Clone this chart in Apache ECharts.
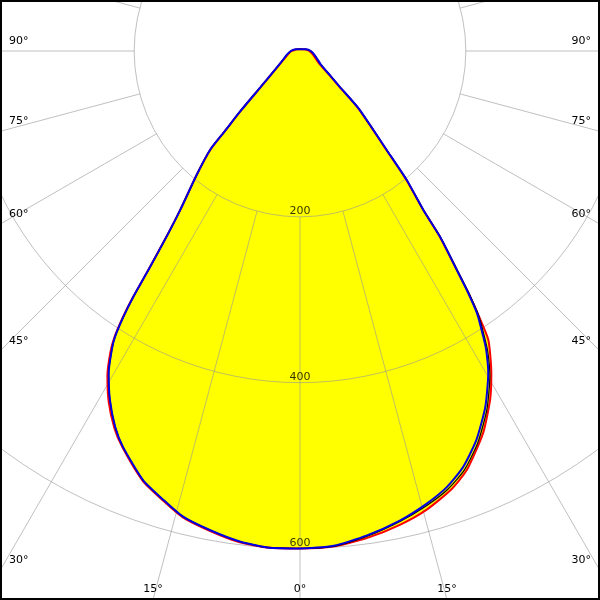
<!DOCTYPE html>
<html>
<head>
<meta charset="utf-8">
<script src="https://cdn.jsdelivr.net/npm/echarts@6/dist/echarts.min.js"></script>
<style>html,body{margin:0;padding:0;background:#fff}#c{width:600px;height:600px}</style>
</head>
<body>
<div id="c"></div>
<script>
// ---- data (angles in degrees from nadir: negative = right half, positive = left half; values in cd) ----
const radiusTicks = [200, 400, 600];
const angleLabelValues = [90, 75, 60, 45, 30, 15, 0];

const blueRightAngles = [-180,-150,-120,-105,-90,-75,-57,-51,-48,-45.5,-41.2,-39.6,-37.8,-37.0,-35.6,-34.9,-34.0,-32.7,-31.9,-30.3,-27.5,-24.4,-21.4,-18.6,-15.6,-12.0,-7.8,-3.9,0];
const blueRightValues = [2,2.5,4,8,13,18,30,47,65,100,159,202,243,281,325,352,382,409,425,450,484,515,539,555,567,579,590,598,600];
const blueLeftAngles = [3.8,7.0,10.6,14.1,16.9,20.1,24.1,26.2,28.6,30.7,32.2,32.9,33.6,34.15,34.7,35.7,37.0,39.8,42.3,43.2,44.7,47.5,50.5,59.7,75,90,105,120,150,180];
const blueLeftValues = [600,596,588,579,566,551,523,505,479,452,426,411,385,358,321,276,240,195,161,132,103,65,47,26,16,11,7,4,2.5,2];

const redRightAngles = [-180,-150,-120,-105,-90,-75,-57,-51,-48,-45.5,-41.2,-39.6,-37.8,-37.0,-35.6,-34.9,-34.0,-33.1,-30.7,-28.6,-25.6,-21.7,-18.9,-15.4,-11.9,-7.8,-3.8,0];
const redRightValues = [2,2.5,4,7,11,16,27,44,62,98,157,200,242,280,325,353,386,416,452,479,511,544,560,574,584,593,599,600];
const redLeftAngles = [3.8,7.0,10.6,14.1,16.9,20.1,24.1,26.2,28.6,30.7,32.2,32.9,33.6,34.15,34.7,35.7,37.0,39.8,42.3,43.2,44.7,47.5,50.5,59.7,75,90,105,120,150,180];
const redLeftValues = [600,597,589,580,567,552,524,507,482,455,429,413,387,359,322,277,240,195,160,131,102,64,46,25,15,10,6,4,2.5,2];

const blackRightAngles = [-180,-150,-120,-105,-90,-75,-57,-51,-48,-45.5,-41.2,-39.6,-37.8,-37.0,-35.6,-34.9,-34.0,-32.7,-31.9,-30.3,-27.5,-24.4,-21.4,-18.6,-15.6,-12.0,-7.8,-3.9,0];
const blackRightValues = [2,2.5,4,8,13,18,30,47,65,100,159,202,243,282,328,356,386,413,429,454,488,519,543,558,569,580,591,599,600];

// ---- layout ----
const CX = 300, CY = 51;
const PX_PER_CD = 497.5 / 600;
const R_MAX = 800;
const OUTER = R_MAX * PX_PER_CD;
const INNER = radiusTicks[0] * PX_PER_CD;
const GRID = 'rgba(150,150,150,0.6)';
const FONT = 'DejaVu Sans';
const SMOOTH = 0.2;

function pairs(angles, values) { return angles.map((a, i) => [values[i], a]); }
const blue = pairs(blueRightAngles, blueRightValues).concat(pairs(blueLeftAngles, blueLeftValues));
const red = pairs(redRightAngles, redRightValues).concat(pairs(redLeftAngles, redLeftValues));
const black = pairs(blackRightAngles, blackRightValues).concat(pairs(blueLeftAngles, blueLeftValues));

// angle labels at the frame edge
const graphics = [];
angleLabelValues.forEach(a => {
  [-1, 1].forEach(side => {
    if (a === 0 && side === 1) return;
    const rad = a * Math.PI / 180;
    const dx = side * Math.sin(rad), dy = Math.cos(rad);
    let tx = Infinity, ty = Infinity;
    if (dx < -1e-9) tx = (0 - CX) / dx;
    if (dx > 1e-9) tx = (600 - CX) / dx;
    if (dy > 1e-9) ty = (600 - CY) / dy;
    const t = Math.min(tx, ty);
    const ex = CX + dx * t, ey = CY + dy * t;
    let st;
    if (tx <= ty) {
      st = { x: dx < 0 ? 9 : 591, y: ey - 10, align: dx < 0 ? 'left' : 'right' };
    } else {
      st = { x: ex, y: 589, align: 'center' };
    }
    graphics.push({
      type: 'text', z: 10,
      style: { text: a + '°', x: st.x, y: st.y, textAlign: st.align, textVerticalAlign: 'middle',
               fill: '#000', font: '11px "' + FONT + '"' }
    });
  });
});
graphics.push({ type: 'rect', z: 20, shape: { x: 1, y: 1, width: 598, height: 598 },
  style: { fill: 'none', stroke: '#000', lineWidth: 2 } });

const chart = echarts.init(document.getElementById('c'), null, { renderer: 'canvas' });
const fillBase = { type: 'line', coordinateSystem: 'polar', polarIndex: 0, showSymbol: false, symbol: 'none', smooth: SMOOTH,
  lineStyle: { width: 0, opacity: 0 }, areaStyle: { color: '#ffff00', opacity: 1 }, z: 1, silent: true, clip: false };
const lineBase = { type: 'line', coordinateSystem: 'polar', polarIndex: 0, showSymbol: false, symbol: 'none', smooth: SMOOTH, silent: true, clip: false };

chart.setOption({
  animation: false,
  backgroundColor: '#fff',
  polar: [
    { center: [CX, CY], radius: [0, OUTER] },
    { center: [CX, CY], radius: [INNER, OUTER] }
  ],
  angleAxis: [
    { polarIndex: 0, type: 'value', min: -180, max: 180, startAngle: 90, clockwise: true, show: false },
    { polarIndex: 1, type: 'value', min: -180, max: 180, interval: 15, startAngle: 90, clockwise: true, z: 3,
      axisLine: { show: false }, axisTick: { show: false }, axisLabel: { show: false },
      splitLine: { show: true, lineStyle: { color: GRID, width: 1 } } }
  ],
  radiusAxis: [
    { polarIndex: 0, type: 'value', min: 0, max: R_MAX, interval: 200, z: 3,
      axisLine: { show: false }, axisTick: { show: false }, axisLabel: { show: false },
      splitLine: { show: true, lineStyle: { color: GRID, width: 1 } } },
    { polarIndex: 1, type: 'value', min: radiusTicks[0], max: R_MAX, show: false,
      axisLine: { show: false }, axisTick: { show: false }, axisLabel: { show: false }, splitLine: { show: false } }
  ],
  series: [
    Object.assign({}, fillBase, { name: 'fillRed', data: red }),
    Object.assign({}, fillBase, { name: 'fillBlue', data: blue }),
    Object.assign({}, lineBase, { name: 'C0-C180', data: red, z: 4, lineStyle: { color: '#ff0000', width: 2 } }),
    Object.assign({}, lineBase, { name: 'C45', data: black, z: 5, lineStyle: { color: '#000000', width: 1.2 } }),
    Object.assign({}, lineBase, { name: 'C90-C270', data: blue, z: 6, lineStyle: { color: '#0000e0', width: 2 } }),
    { type: 'scatter', coordinateSystem: 'polar', polarIndex: 0, symbolSize: 0, z: 8, silent: true,
      data: radiusTicks.map(v => [v, 0]),
      label: { show: true, position: 'top', distance: 0, color: '#000', fontSize: 11, fontFamily: FONT,
               formatter: p => String(p.value[0]) } }
  ],
  graphic: graphics
});
</script>
</body>
</html>
